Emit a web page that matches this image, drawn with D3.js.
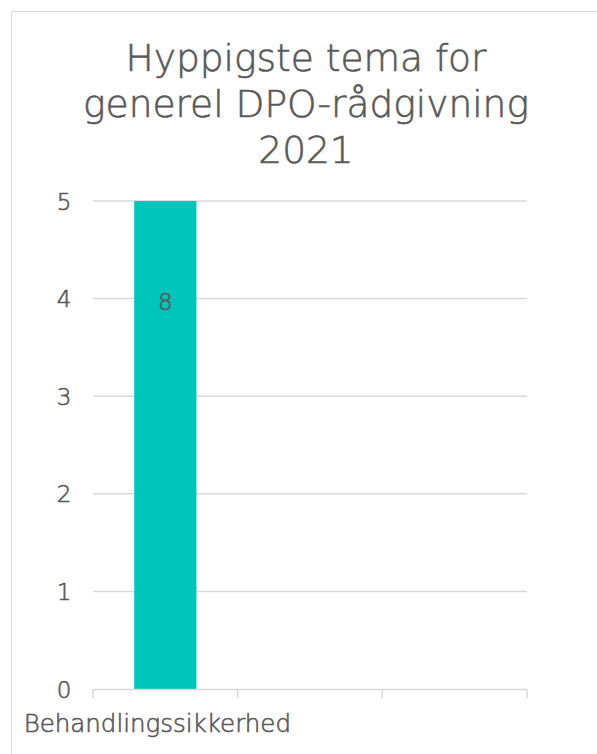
<!DOCTYPE html>
<html>
<head>
<meta charset="utf-8">
<script src="https://cdn.jsdelivr.net/npm/d3@7"></script>
<style>
  html, body { margin: 0; padding: 0; background: #fff; }
  svg { display: block; }
  text { font-family: "DejaVu Sans", sans-serif; font-weight: 200; fill: #595959; stroke: #595959; stroke-width: 0.6px; }
</style>
</head>
<body>
<svg id="chart" width="597" height="754"></svg>
<script>
// Chart data
const titleLines = ["Hyppigste tema for", "generel DPO-rådgivning", "2021"];
const categories = ["Behandlingssikkerhed", "", ""];
const values = [8, null, null];
const yTicks = [0, 1, 2, 3, 4, 5];
const yMax = 5;

const svg = d3.select("#chart");
const W = 597, H = 754;

// Chart frame
svg.append("rect")
  .attr("x", 11.5).attr("y", 11.5)
  .attr("width", W + 20).attr("height", H + 20)
  .attr("fill", "#fff").attr("stroke", "#d9d9d9").attr("stroke-width", 1);

// Title
const title = svg.append("text")
  .attr("text-anchor", "middle")
  .style("font-size", "37.5px");
titleLines.forEach((line, i) => {
  title.append("tspan").attr("x", 306).attr("y", 71 + i * 46).text(line);
});

const plot = { left: 93, right: 527, top: 201, bottom: 689 };

const x = d3.scaleBand()
  .domain(d3.range(categories.length))
  .range([plot.left, plot.right])
  .paddingInner(0.57).paddingOuter(0.285);

const xBand = d3.scaleBand()
  .domain(d3.range(categories.length))
  .range([plot.left, plot.right]);

const y = d3.scaleLinear().domain([0, yMax]).range([plot.bottom, plot.top]).clamp(true);

// Gridlines
svg.append("g")
  .selectAll("line")
  .data(yTicks.filter(t => t > 0))
  .join("line")
  .attr("x1", plot.left).attr("x2", plot.right)
  .attr("y1", d => y(d)).attr("y2", d => y(d))
  .attr("stroke", "#d9d9d9").attr("stroke-width", 1.5);

// Y tick labels
svg.append("g")
  .selectAll("text")
  .data(yTicks)
  .join("text")
  .attr("x", 64).attr("y", d => y(d) + 8.5)
  .attr("text-anchor", "middle")
  .style("font-size", "23px")
  .text(d => d);

// Bars (values above the axis maximum are clipped at the top)
svg.append("g")
  .selectAll("rect")
  .data(values.map((v, i) => ({ v, i })).filter(d => d.v != null))
  .join("rect")
  .attr("x", d => x(d.i))
  .attr("width", x.bandwidth())
  .attr("y", d => y(d.v))
  .attr("height", d => y(0) - y(d.v))
  .attr("fill", "#00c5ba");

// Value labels
svg.append("g")
  .selectAll("text")
  .data(values.map((v, i) => ({ v, i })).filter(d => d.v != null))
  .join("text")
  .attr("x", d => x(d.i) + x.bandwidth() / 2)
  .attr("y", d => y(d.v) + 109)
  .attr("text-anchor", "middle")
  .style("font-size", "23px")
  .text(d => d.v);

// X axis baseline and ticks
const axis = svg.append("g");
axis.append("line")
  .attr("x1", plot.left).attr("x2", plot.right)
  .attr("y1", plot.bottom + 0.5).attr("y2", plot.bottom + 0.5)
  .attr("stroke", "#d9d9d9").attr("stroke-width", 1.5);
axis.selectAll("line.tick")
  .data(d3.range(categories.length + 1))
  .join("line")
  .attr("class", "tick")
  .attr("x1", i => plot.left + i * xBand.bandwidth())
  .attr("x2", i => plot.left + i * xBand.bandwidth())
  .attr("y1", plot.bottom).attr("y2", plot.bottom + 9)
  .attr("stroke", "#d9d9d9").attr("stroke-width", 1.5);

// Category labels
axis.selectAll("text")
  .data(categories)
  .join("text")
  .attr("x", (d, i) => xBand(i) + xBand.bandwidth() / 2 - 8)
  .attr("y", 732)
  .attr("text-anchor", "middle")
  .style("font-size", "24.5px")
  .text(d => d);
</script>
</body>
</html>
